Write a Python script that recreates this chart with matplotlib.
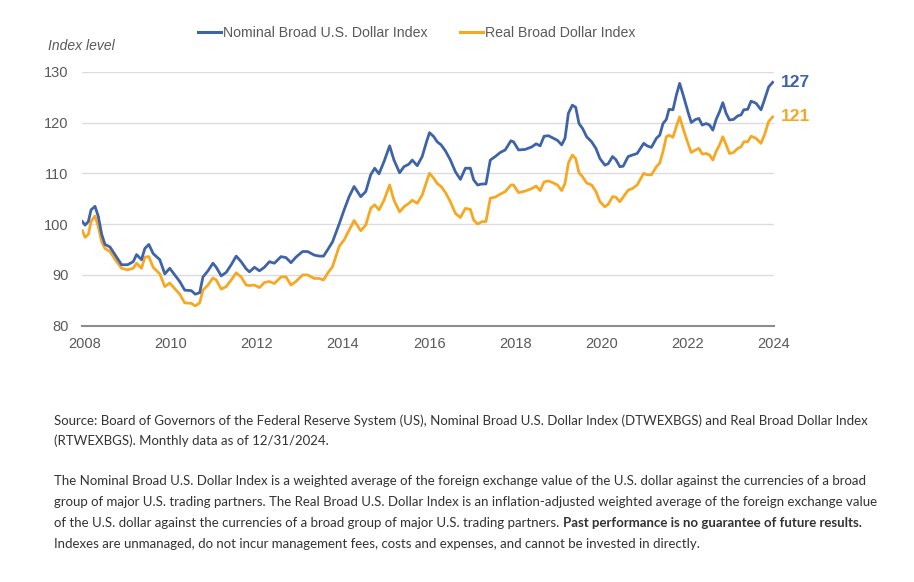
import matplotlib
matplotlib.use("Agg")
import matplotlib.pyplot as plt
from matplotlib.lines import Line2D

# ---- data ----
dates = [2007.946, 2008.008, 2008.085, 2008.147, 2008.239, 2008.316, 2008.394, 2008.471, 2008.586, 2008.702,
         2008.856, 2008.995, 2009.127, 2009.204, 2009.319, 2009.397, 2009.489, 2009.590, 2009.744, 2009.860,
         2009.975, 2010.091, 2010.207, 2010.323, 2010.477, 2010.569, 2010.670, 2010.747, 2010.863, 2010.978,
         2011.056, 2011.171, 2011.287, 2011.403, 2011.519, 2011.634, 2011.750, 2011.827, 2011.943, 2012.059,
         2012.174, 2012.290, 2012.406, 2012.560, 2012.676, 2012.792, 2012.907, 2013.062, 2013.177, 2013.332,
         2013.448, 2013.548, 2013.640, 2013.756, 2013.910,
         2014.026, 2014.142, 2014.258, 2014.412, 2014.528, 2014.643, 2014.736, 2014.836, 2014.952, 2015.083,
         2015.184, 2015.315, 2015.415, 2015.531, 2015.608, 2015.724, 2015.839, 2015.940, 2016.009, 2016.110,
         2016.187, 2016.279, 2016.380, 2016.495, 2016.611, 2016.727, 2016.843, 2016.958, 2017.035, 2017.128,
         2017.228, 2017.321, 2017.421, 2017.537, 2017.653, 2017.768, 2017.900, 2017.961, 2018.077, 2018.231,
         2018.386, 2018.486, 2018.579, 2018.671, 2018.772, 2018.887, 2018.980, 2019.080,
         2019.157, 2019.235, 2019.327, 2019.405, 2019.482, 2019.567, 2019.659, 2019.775, 2019.875, 2019.968,
         2020.084, 2020.161, 2020.261, 2020.338, 2020.431, 2020.508, 2020.624, 2020.724, 2020.832, 2020.986,
         2021.064, 2021.164, 2021.280, 2021.357, 2021.434, 2021.511, 2021.573, 2021.665, 2021.743, 2021.820,
         2021.912, 2022.013, 2022.090, 2022.190, 2022.267, 2022.344, 2022.437, 2022.514, 2022.591, 2022.668,
         2022.746, 2022.823, 2022.900, 2022.977, 2023.070, 2023.170, 2023.247, 2023.309, 2023.401, 2023.479,
         2023.594, 2023.710, 2023.787, 2023.888, 2023.981]

nominal = [100.5, 99.8, 100.5, 102.8, 103.5, 101.5, 98.0, 96.0, 95.5, 94.0,
           92.0, 92.0, 92.6, 94.0, 93.0, 95.2, 96.0, 94.2, 93.0, 90.2,
           91.3, 90.0, 88.7, 87.0, 86.9, 86.2, 86.5, 89.6, 90.8, 92.3,
           91.5, 89.8, 90.5, 92.0, 93.7, 92.6, 91.2, 90.6, 91.5, 90.8,
           91.5, 92.6, 92.3, 93.6, 93.4, 92.4, 93.5, 94.6, 94.6, 93.9,
           93.7, 93.7, 94.9, 96.5, 100.0,
           102.8, 105.4, 107.4, 105.4, 106.4, 109.7, 111.0, 109.9, 112.3, 115.4,
           112.6, 110.1, 111.3, 111.8, 112.6, 111.5, 113.3, 116.2, 118.0, 117.2,
           116.2, 115.6, 114.4, 112.6, 110.3, 108.8, 111.0, 111.0, 108.7, 107.7,
           107.9, 107.9, 112.6, 113.3, 114.1, 114.6, 116.4, 116.2, 114.6, 114.7,
           115.2, 115.8, 115.4, 117.3, 117.4, 116.9, 116.5, 115.6,
           116.9, 121.8, 123.4, 123.0, 119.8, 118.8, 117.2, 116.2, 114.9, 112.9,
           111.6, 111.9, 113.3, 112.7, 111.3, 111.4, 113.3, 113.6, 113.9, 115.9,
           115.4, 115.1, 116.9, 117.5, 119.8, 120.6, 122.6, 122.5, 125.4, 127.7,
           125.1, 122.1, 120.0, 120.6, 120.8, 119.5, 119.8, 119.5, 118.5, 120.6,
           122.1, 123.9, 121.8, 120.5, 120.6, 121.3, 121.5, 122.5, 122.6, 124.2,
           123.8, 122.5, 124.4, 127.0, 127.9]

real = [98.7, 97.4, 98.0, 100.5, 101.6, 99.5, 96.5, 95.2, 94.6, 93.1,
        91.3, 91.0, 91.3, 92.3, 91.3, 93.5, 93.6, 91.5, 90.2, 87.7,
        88.4, 87.3, 86.2, 84.5, 84.4, 83.9, 84.5, 87.0, 88.0, 89.4,
        89.0, 87.2, 87.7, 89.0, 90.4, 89.6, 88.0, 87.9, 88.0, 87.5,
        88.5, 88.7, 88.3, 89.6, 89.6, 88.0, 88.7, 90.0, 90.0, 89.3,
        89.3, 89.0, 90.3, 91.6, 95.6,
        96.9, 98.8, 100.7, 98.7, 99.8, 103.1, 103.8, 102.8, 104.7, 107.7,
        104.7, 102.4, 103.4, 104.1, 104.7, 104.1, 105.7, 108.3, 110.0, 109.0,
        108.0, 107.4, 106.2, 104.4, 102.1, 101.3, 103.1, 102.9, 100.8, 100.0,
        100.5, 100.5, 105.1, 105.3, 105.9, 106.4, 107.7, 107.7, 106.2, 106.5,
        107.0, 107.5, 106.6, 108.3, 108.5, 108.1, 107.7, 106.6,
        108.0, 112.0, 113.6, 112.9, 110.1, 109.3, 108.1, 107.7, 106.4, 104.4,
        103.4, 103.9, 105.4, 105.3, 104.4, 105.3, 106.7, 107.0, 107.7, 110.0,
        109.7, 109.7, 111.3, 112.0, 114.3, 117.2, 117.5, 117.1, 119.2, 121.1,
        118.5, 115.9, 114.1, 114.6, 114.9, 113.8, 113.9, 113.6, 112.6, 114.3,
        115.6, 117.2, 115.6, 113.9, 114.1, 114.9, 115.2, 116.2, 116.2, 117.3,
        116.9, 115.9, 117.5, 120.2, 121.1]

series_names = ["Nominal Broad U.S. Dollar Index", "Real Broad Dollar Index"]
end_labels = ["127", "121"]
y_ticks = [80, 90, 100, 110, 120, 130]
x_ticks = [2008, 2010, 2012, 2014, 2016, 2018, 2020, 2022, 2024]

BLUE = "#3F63A8"
ORANGE = "#F7A823"
GRAY = "#595959"
TXT = "#333333"
CHART_FONT = ["Liberation Sans", "DejaVu Sans"]
CAP_FONT = ["Lato", "DejaVu Sans"]

W, H = 914, 582
fig = plt.figure(figsize=(W / 100, H / 100), dpi=100)
fig.patch.set_facecolor("white")

ax_l, ax_r, ax_t, ax_b = 81.7, 773.5, 71.7, 325.7
ax = fig.add_axes([ax_l / W, 1 - ax_b / H, (ax_r - ax_l) / W, (ax_b - ax_t) / H])

ax.plot(dates, nominal, color=BLUE, lw=2.0, solid_joinstyle="round", zorder=3)
ax.plot(dates, real, color=ORANGE, lw=2.0, solid_joinstyle="round", zorder=2)

ax.set_xlim(2007.93, 2024.0)
ax.set_ylim(80, 130)
ax.set_yticks(y_ticks)
ax.set_xticks(x_ticks)
ax.set_xticklabels([str(t) for t in x_ticks])
ax.grid(axis="y", color="#DCDCDC", lw=1.0)
ax.set_axisbelow(True)
for s in ["left", "right", "top"]:
    ax.spines[s].set_visible(False)
ax.spines["bottom"].set_color("#8C8C8C")
ax.spines["bottom"].set_linewidth(1.5)
ax.tick_params(axis="both", length=0, colors=GRAY, labelsize=10.5)
ax.tick_params(axis="y", pad=9.5)
ax.tick_params(axis="x", pad=8)
for lab in ax.get_xticklabels() + ax.get_yticklabels():
    lab.set_family(CHART_FONT)
    lab.set_color(GRAY)

# axis title
fig.text(48 / W, 1 - 46 / H, "Index level", fontsize=10, style="italic", color=GRAY,
         family=CHART_FONT, ha="left", va="center")

# end labels
ax.annotate(end_labels[0], xy=(dates[-1], nominal[-1]), xytext=(6, 0), textcoords="offset points",
            color=BLUE, fontsize=12.5, fontweight="bold", family=CHART_FONT, ha="left", va="center")
ax.annotate(end_labels[1], xy=(dates[-1], real[-1]), xytext=(6, 0), textcoords="offset points",
            color=ORANGE, fontsize=12.5, fontweight="bold", family=CHART_FONT, ha="left", va="center")

# legend
handles = [Line2D([0], [0], color=BLUE, lw=2.2), Line2D([0], [0], color=ORANGE, lw=2.2)]
leg = fig.legend(handles, series_names, loc="center", bbox_to_anchor=(417 / W, 1 - 33 / H), ncol=2,
                 frameon=False, handlelength=1.6, handletextpad=0.15, columnspacing=2.3,
                 prop={"family": CHART_FONT, "size": 10.2})
for t in leg.get_texts():
    t.set_color(GRAY)

# caption text
cap_size = 9.58
x0 = 54 / W
fig.text(x0, 1 - 421 / H, "Source: Board of Governors of the Federal Reserve System (US), Nominal Broad U.S. Dollar Index (DTWEXBGS) and Real Broad Dollar Index",
         fontsize=cap_size, color=TXT, family=CAP_FONT, va="center")
fig.text(x0, 1 - 441 / H, "(RTWEXBGS). Monthly data as of 12/31/2024.",
         fontsize=cap_size, color=TXT, family=CAP_FONT, va="center")
fig.text(x0, 1 - 481 / H, "The Nominal Broad U.S. Dollar Index is a weighted average of the foreign exchange value of the U.S. dollar against the currencies of a broad",
         fontsize=cap_size, color=TXT, family=CAP_FONT, va="center")
fig.text(x0, 1 - 502 / H, "group of major U.S. trading partners. The Real Broad U.S. Dollar Index is an inflation-adjusted weighted average of the foreign exchange value",
         fontsize=cap_size, color=TXT, family=CAP_FONT, va="center")
t1 = fig.text(x0, 1 - 523 / H, "of the U.S. dollar against the currencies of a broad group of major U.S. trading partners.",
              fontsize=cap_size, color=TXT, family=CAP_FONT, va="center")
fig.canvas.draw()
r = fig.canvas.get_renderer()
bb = t1.get_window_extent(renderer=r)
fig.text(bb.x1 / W + 4 / W, 1 - 523 / H, "Past performance is no guarantee of future results.",
         fontsize=cap_size, color=TXT, family=CAP_FONT, fontweight="bold", va="center")
fig.text(x0, 1 - 544 / H, "Indexes are unmanaged, do not incur management fees, costs and expenses, and cannot be invested in directly.",
         fontsize=cap_size, color=TXT, family=CAP_FONT, va="center")

fig.savefig("out.png", dpi=100, facecolor="white")
